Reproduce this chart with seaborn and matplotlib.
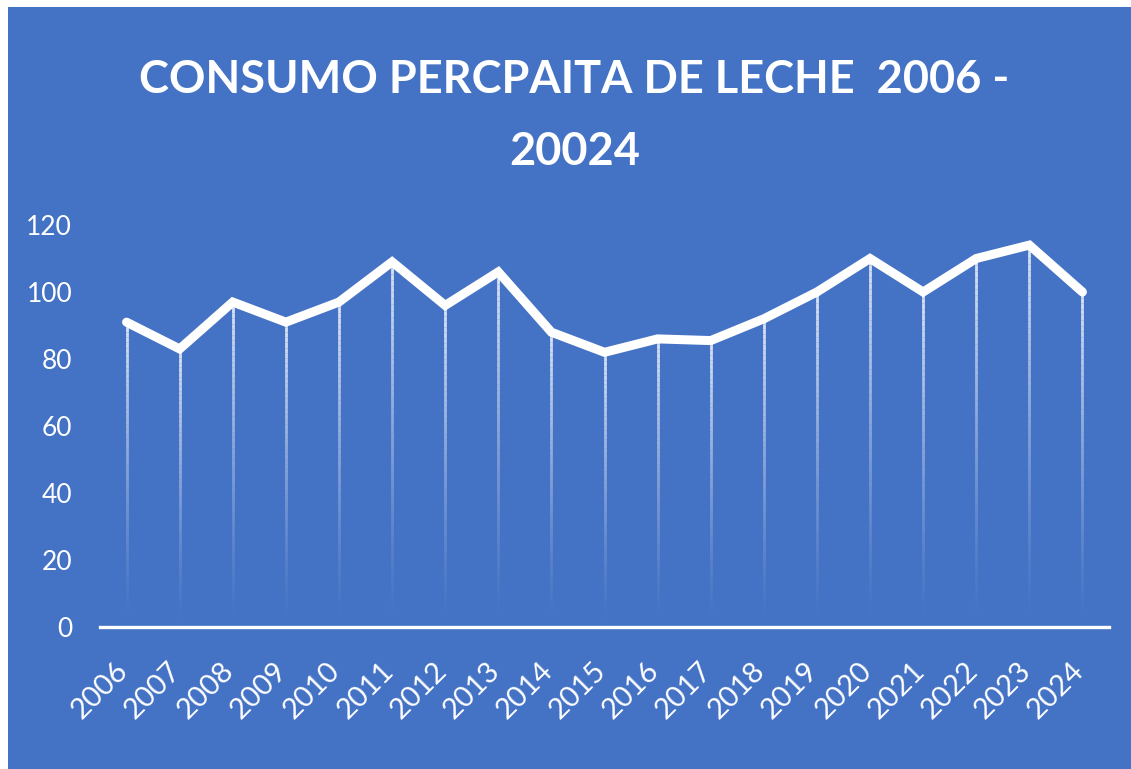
import numpy as np
import pandas as pd
import matplotlib
matplotlib.use("Agg")
import matplotlib.pyplot as plt
import matplotlib.transforms as mtransforms
from matplotlib.collections import LineCollection
from matplotlib.patches import Rectangle
import seaborn as sns

years = [str(y) for y in range(2006, 2025)]
consumo = [91, 83, 97, 91, 97, 109, 96, 106, 88, 82, 86, 85.5, 92, 100, 110, 100, 110, 114, 100]
y_ticks = [0, 20, 40, 60, 80, 100, 120]
title = "CONSUMO PERCPAITA DE LECHE  2006 -\n20024"

BLUE = "#4472C4"

df = pd.DataFrame({"anio": years, "consumo": consumo})

sns.set_theme(style="white")
plt.rcParams["font.family"] = ["Lato", "DejaVu Sans"]

fig = plt.figure(figsize=(11.31, 7.69), dpi=100, facecolor="white")
fig.patches.append(Rectangle((8 / 1131, 0), 1, 1 - 7 / 769, transform=fig.transFigure,
                             facecolor=BLUE, edgecolor="none", zorder=-5))
ax = fig.add_axes([100 / 1131, 1 - 627 / 769, 1009 / 1131, 402 / 769])
ax.set_zorder(2)
ax.patch.set_alpha(0)

# drop lines fading toward the axis
n = 60
for i, v in enumerate(consumo):
    ys = np.linspace(0, v, n + 1)
    segs = [[(i, ys[k]), (i, ys[k + 1])] for k in range(n)]
    alphas = np.linspace(0.0, 0.85, n) ** 1.3
    cols = [(1, 1, 1, a) for a in alphas]
    ax.add_collection(LineCollection(segs, colors=cols, linewidths=2.0, zorder=2))

sns.lineplot(data=df, x="anio", y="consumo", ax=ax, color="white", linewidth=6.5,
             sort=False, zorder=3, solid_capstyle="round", solid_joinstyle="miter")

ax.set_xlim(-0.5, len(years) - 0.5)
ax.set_ylim(0, 120)
ax.set_yticks(y_ticks)
ax.set_xlabel("")
ax.set_ylabel("")
for s in ["top", "right", "left"]:
    ax.spines[s].set_visible(False)
ax.spines["bottom"].set_color("white")
ax.spines["bottom"].set_linewidth(2.4)
ax.tick_params(axis="y", length=0, pad=20, labelsize=19, labelcolor="white")
ax.tick_params(axis="x", length=0, labelbottom=False)

# year labels, rotated, tucked left of each tick
shift = mtransforms.ScaledTranslation(-12 / 100, -30 / 100, fig.dpi_scale_trans)
lab_tr = ax.get_xaxis_transform() + shift
for i, yr in enumerate(years):
    ax.text(i, 0, yr, transform=lab_tr, rotation=45, ha="right", va="top",
            rotation_mode="anchor", color="white", fontsize=21, clip_on=False)

fig.text(0.508, 1 - 116 / 769, title, ha="center", va="center", color="white",
         fontsize=32.5, fontweight="bold", linespacing=1.9, zorder=3)

fig.savefig("out.png", dpi=100, facecolor=fig.get_facecolor())
